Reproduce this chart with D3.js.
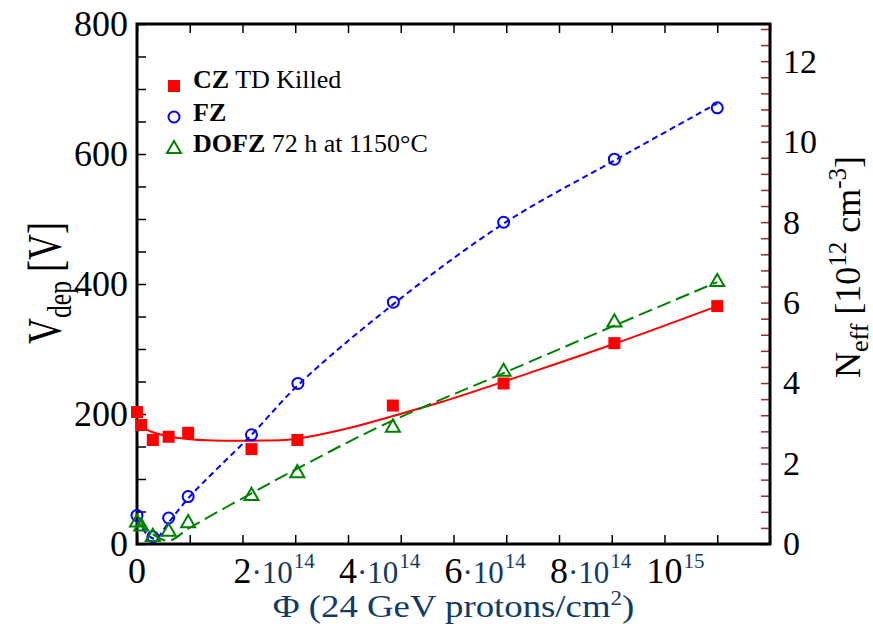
<!DOCTYPE html>
<html>
<head>
<meta charset="utf-8">
<script src="https://cdn.jsdelivr.net/npm/d3@7"></script>
<style>
  body { margin: 0; background: #fff; }
  svg text { font-family: "Liberation Serif", "Times New Roman", serif; }
</style>
</head>
<body>
<div id="chart"></div>
<script>
// fluence in units of 1e14 protons/cm^2, depletion voltage in V
const fluence = [0, 0.08, 0.3, 0.6, 0.97, 2.17, 3.04, 4.85, 6.95, 9.05, 11.0];
const vdepCZ = [203, 183, 160, 165, 171, 146, 160, 213, 247, 309, 366];
const vdepDOFZ = [33, 27, 11, 19, 32, 74, 109, 179, 265, 341, 403];

const fluenceFZ = [0, 0.3, 0.6, 0.97, 2.17, 3.05, 4.86, 6.95, 9.05, 11.0];
const vdepFZ = [44, 11, 40, 73, 168, 247, 372, 495, 592, 671];

// fit curves
const fitCZx = [0, 0.3, 1, 2.2, 3, 4, 4.85, 5.75, 7.65, 9.05, 11];
const fitCZy = [185, 172, 161, 159, 161.5, 178, 197, 218, 269, 308, 366];
const fitFZx = [0, 0.2, 0.35, 0.6, 1, 2.17, 3.06, 4.86, 6.95, 9.05, 11];
const fitFZy = [37, 14, 8, 33, 73, 168, 245, 369, 493, 590, 678];
const fitDOFZx = [0, 0.3, 0.6, 1, 2.17, 3.04, 4.61, 6.95, 9.05, 11];
const fitDOFZy = [34, 15, 5, 25, 78, 116, 181, 263, 336, 403];

// tick labels
const xTickPos = [0, 2, 4, 6, 8, 10];
const xTickMain = ["0", "2", "4", "6", "8", "10"];
const xTickMid = ["", "\u00b710", "\u00b710", "\u00b710", "\u00b710", ""];
const xTickExp = ["", "14", "14", "14", "14", "15"];
const yTicksLeft = [0, 200, 400, 600, 800];
const yTicksRight = [0, 2, 4, 6, 8, 10, 12];

const legendNames = ["CZ", "FZ", "DOFZ"];
const legendRest = [" TD Killed", "", " 72 h at 1150\u00b0C"];

const vPerN = 61.9; // V per 1e12 cm^-3

let margin = { top: 24, right: 103, bottom: 88, left: 137 },
    width = 873 - margin.left - margin.right,
    height = 632 - margin.top - margin.bottom;

let root = d3.select("#chart")
    .append("svg")
    .attr("width", 873)
    .attr("height", 632);

let svg = root.append("g")
    .attr("transform", "translate(" + margin.left + "," + margin.top + ")");

let x = d3.scaleLinear().domain([0, 12]).range([0, width]);
let y = d3.scaleLinear().domain([0, 800]).range([height, 0]);
let yN = d3.scaleLinear().domain([0, 800 / vPerN]).range([height, 0]);

const navy = "#123a64";

// axes (ticks only, frame drawn separately)
let gBottom = svg.append("g")
    .attr("transform", "translate(0," + height + ")")
    .call(d3.axisBottom(x).tickValues(d3.range(0, 13)).tickSize(-9).tickFormat(""));
let gTop = svg.append("g")
    .call(d3.axisTop(x).tickValues(d3.range(0, 13)).tickSize(-9).tickFormat(""));
let gLeft = svg.append("g")
    .call(d3.axisLeft(y).tickValues(d3.range(0, 801, 50)).tickSize(-9).tickPadding(9)
        .tickFormat(function (d) { return yTicksLeft.indexOf(d) >= 0 ? d : ""; }));
let gRight = svg.append("g")
    .attr("transform", "translate(" + width + ",0)")
    .call(d3.axisRight(yN).tickValues(d3.range(0, 33).map(function (i) { return i * 0.4; }))
        .tickSize(-9).tickPadding(13)
        .tickFormat(function (d) {
            let r = Math.round(d);
            return (Math.abs(d - r) < 1e-6 && yTicksRight.indexOf(r) >= 0) ? r : "";
        }));

[gBottom, gTop, gLeft, gRight].forEach(function (g) {
    g.select(".domain").remove();
    g.selectAll("line").attr("stroke-width", 1.5);
});
gRight.selectAll("line").attr("stroke", "#a02828");
gLeft.selectAll("text").attr("font-size", 36).attr("fill", "#000");
gRight.selectAll("text").attr("font-size", 34).attr("fill", "#000");

// x tick labels: mantissa centred on tick, "·10^n" hanging right
let xl = svg.append("g").attr("transform", "translate(0," + (height + 39) + ")");
xTickPos.forEach(function (p, i) {
    let t = xl.append("text")
        .attr("x", x(p))
        .attr("text-anchor", "middle")
        .attr("font-size", 36)
        .attr("fill", "#000")
        .text(xTickMain[i]);
    let w = t.node().getComputedTextLength();
    let r = xl.append("text")
        .attr("x", x(p) + w / 2)
        .attr("font-size", 31)
        .attr("fill", navy);
    r.append("tspan").text(xTickMid[i]);
    r.append("tspan").attr("font-size", 21).attr("dy", -15).attr("dx", 1).text(xTickExp[i]);
});

// axis titles (the original lettering is stretched, hence the scale())
let xt = svg.append("text")
    .attr("transform", "translate(" + (width / 2) + "," + (height + 73) + ")scale(1.15,1)")
    .attr("text-anchor", "middle")
    .attr("font-size", 32)
    .attr("fill", navy);
xt.append("tspan").text("\u03a6 (24 GeV protons/cm");
xt.append("tspan").attr("font-size", 20).attr("dy", -12).text("2");
xt.append("tspan").attr("dy", 12).text(")");

let yt = root.append("text")
    .attr("transform", "translate(61,283)rotate(-90)scale(0.75,1)")
    .attr("text-anchor", "middle")
    .attr("font-size", 48)
    .attr("fill", "#000");
yt.append("tspan").text("V");
yt.append("tspan").attr("font-size", 34).attr("dy", 10).text("dep");
yt.append("tspan").attr("dy", -10).text(" [V]");

let yt2 = root.append("text")
    .attr("transform", "translate(860,267)rotate(-90)")
    .attr("text-anchor", "middle")
    .attr("font-size", 36)
    .attr("fill", "#000");
yt2.append("tspan").text("N");
yt2.append("tspan").attr("font-size", 26).attr("dy", 8).text("eff");
yt2.append("tspan").attr("dy", -8).text(" [10");
yt2.append("tspan").attr("font-size", 25).attr("dy", -14).text("12");
yt2.append("tspan").attr("dy", 14).text(" cm");
yt2.append("tspan").attr("font-size", 25).attr("dy", -14).text("-3");
yt2.append("tspan").attr("dy", 14).text("]");

// frame
svg.append("rect")
    .attr("width", width)
    .attr("height", height)
    .attr("fill", "none")
    .attr("stroke", "#000")
    .attr("stroke-width", 3);

// fit lines
function fitLine(xs, ys) {
    return d3.line()
        .x(function (d) { return x(d); })
        .y(function (d, i) { return y(ys[i]); })
        .curve(d3.curveCatmullRom)(xs);
}

svg.append("path")
    .attr("d", fitLine(fitCZx, fitCZy))
    .attr("fill", "none")
    .attr("stroke", "#ff0000")
    .attr("stroke-width", 2);
svg.append("path")
    .attr("d", fitLine(fitFZx, fitFZy))
    .attr("fill", "none")
    .attr("stroke", "#0000ff")
    .attr("stroke-width", 2)
    .attr("stroke-dasharray", "6,4");
svg.append("path")
    .attr("d", fitLine(fitDOFZx, fitDOFZy))
    .attr("fill", "none")
    .attr("stroke", "#008000")
    .attr("stroke-width", 2)
    .attr("stroke-dasharray", "14,6");

// markers
let tri = d3.symbol().type(d3.symbolTriangle).size(85);

svg.append("g")
    .selectAll("rect")
    .data(fluence)
    .enter()
    .append("rect")
    .attr("x", function (d) { return x(d) - 6; })
    .attr("y", function (d, i) { return y(vdepCZ[i]) - 6; })
    .attr("width", 12)
    .attr("height", 12)
    .attr("fill", "#ff0000");

svg.append("g")
    .selectAll("circle")
    .data(fluenceFZ)
    .enter()
    .append("circle")
    .attr("cx", function (d) { return x(d); })
    .attr("cy", function (d, i) { return y(vdepFZ[i]); })
    .attr("r", 5.5)
    .attr("fill", "none")
    .attr("stroke", "#0000ff")
    .attr("stroke-width", 2);

svg.append("g")
    .selectAll("path")
    .data(fluence)
    .enter()
    .append("path")
    .attr("d", tri)
    .attr("transform", function (d, i) { return "translate(" + x(d) + "," + y(vdepDOFZ[i]) + ")"; })
    .attr("fill", "none")
    .attr("stroke", "#008000")
    .attr("stroke-width", 2);

// legend
let lg = root.append("g");
let rows = [86, 117, 149];
lg.append("rect").attr("x", 168).attr("y", rows[0] - 6).attr("width", 12).attr("height", 12).attr("fill", "#ff0000");
lg.append("circle").attr("cx", 174).attr("cy", rows[1]).attr("r", 5.5)
    .attr("fill", "none").attr("stroke", "#0000ff").attr("stroke-width", 2);
lg.append("path").attr("d", tri).attr("transform", "translate(174," + rows[2] + ")")
    .attr("fill", "none").attr("stroke", "#008000").attr("stroke-width", 2);

let baselines = [88, 121, 152];
legendNames.forEach(function (n, i) {
    let t = lg.append("text")
        .attr("x", 193)
        .attr("y", baselines[i])
        .attr("font-size", 26)
        .attr("fill", "#000");
    t.append("tspan").attr("font-weight", "bold").text(n);
    t.append("tspan").text(legendRest[i]);
});
</script>
</body>
</html>
